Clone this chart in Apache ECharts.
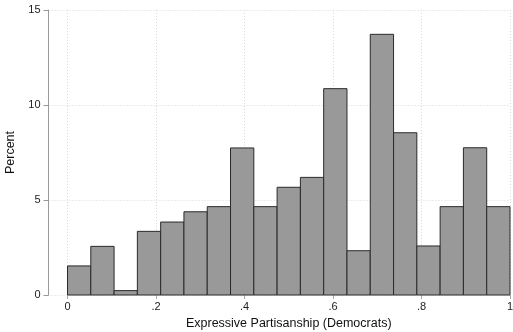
<!DOCTYPE html>
<html>
<head>
<meta charset="utf-8">
<script src="https://cdn.jsdelivr.net/npm/echarts@6/dist/echarts.min.js"></script>
<style>
html,body{margin:0;padding:0;background:#fff;}
#chart{width:513px;height:332px;}
</style>
</head>
<body>
<div id="chart"></div>
<script>
// Histogram of expressive partisanship (Democrats), 19 equal bins on [0, 1]
const binStart = 0;
const binEnd = 1;
const percents = [1.53, 2.56, 0.23, 3.35, 3.84, 4.38, 4.65, 7.74, 4.65, 5.67, 6.19, 10.86, 2.33, 13.72, 8.54, 2.58, 4.65, 7.75, 4.65];
const xTickValues = [0, 0.2, 0.4, 0.6, 0.8, 1];
const yTickValues = [0, 5, 10, 15];
const xTitle = 'Expressive Partisanship (Democrats)';
const yTitle = 'Percent';

const binWidth = (binEnd - binStart) / percents.length;
const histData = percents.map((p, i) => [binStart + i * binWidth, binStart + (i + 1) * binWidth, p]);

const FONT = '"Liberation Sans", Arial, Helvetica, sans-serif';
const chart = echarts.init(document.getElementById('chart'), null, {renderer: 'canvas'});

const fmtX = v => {
  if (Math.abs(v) < 1e-9) return '0';
  if (Math.abs(v - 1) < 1e-9) return '1';
  return v.toFixed(1).replace(/^0/, '');
};
const yMin = yTickValues[0], yMax = yTickValues[yTickValues.length - 1];

chart.setOption({
  animation: false,
  backgroundColor: '#fff',
  grid: [
    {left: 67.5, right: 3, top: 10, bottom: 37, containLabel: false, outerBoundsMode: 'none'},
    {left: 48.5, right: 3, top: 10, bottom: 37, containLabel: false, outerBoundsMode: 'none'}
  ],
  xAxis: [
    {
      type: 'value', gridIndex: 0,
      min: xTickValues[0], max: xTickValues[xTickValues.length - 1], interval: 0.2,
      axisLine: {show: false},
      axisTick: {show: true, length: 4, lineStyle: {color: '#aaa', width: 1}},
      axisLabel: {show: true, margin: 6, color: '#222', fontFamily: FONT, fontSize: 11, formatter: fmtX},
      splitLine: {show: true, lineStyle: {color: '#d8d8d8', type: [1, 2], width: 1}},
      name: xTitle, nameLocation: 'middle', nameGap: 21,
      nameTextStyle: {color: '#111', fontFamily: FONT, fontSize: 12.5, verticalAlign: 'top'}
    },
    {
      type: 'value', gridIndex: 1, min: 0, max: 1, show: false
    }
  ],
  yAxis: [
    {
      type: 'value', gridIndex: 0, min: yMin, max: yMax, interval: 5, show: false
    },
    {
      type: 'value', gridIndex: 1, min: yMin, max: yMax, interval: 5,
      axisLine: {show: true, lineStyle: {color: '#999', width: 1}},
      axisTick: {show: true, length: 5, lineStyle: {color: '#999', width: 1}},
      axisLabel: {show: true, margin: 8, color: '#222', fontFamily: FONT, fontSize: 11},
      splitLine: {show: true, lineStyle: {color: '#d8d8d8', type: [1, 2], width: 1}},
      name: yTitle, nameLocation: 'middle', nameGap: 28,
      nameTextStyle: {color: '#111', fontFamily: FONT, fontSize: 12.5}
    }
  ],
  series: [{
    type: 'custom',
    xAxisIndex: 0, yAxisIndex: 0,
    data: histData,
    encode: {x: [0, 1], y: 2},
    renderItem: (params, api) => {
      const x0 = api.value(0), x1 = api.value(1), v = api.value(2);
      const pTop = api.coord([x0, v]);
      const pBot = api.coord([x1, 0]);
      return {
        type: 'rect',
        shape: {x: pTop[0], y: pTop[1], width: pBot[0] - pTop[0], height: pBot[1] - pTop[1]},
        style: {fill: '#999999', stroke: '#2a2a2a', lineWidth: 1}
      };
    }
  }]
});
</script>
</body>
</html>
